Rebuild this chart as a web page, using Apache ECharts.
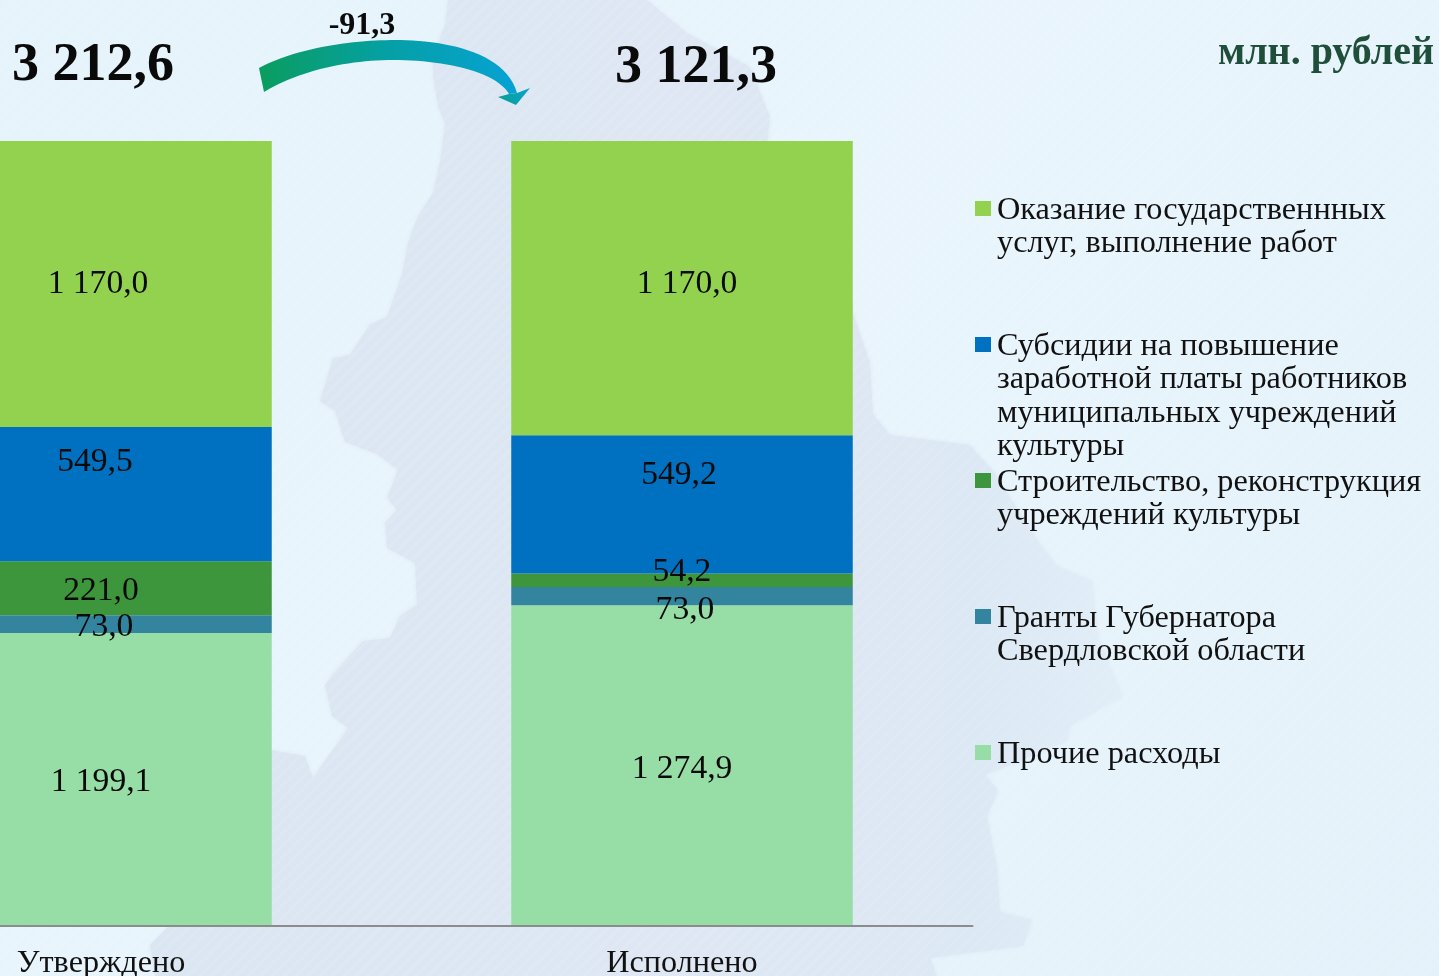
<!DOCTYPE html>
<html><head><meta charset="utf-8">
<style>html,body{margin:0;padding:0;width:1439px;height:976px;overflow:hidden;background:#e6f3fb}#c{width:1439px;height:976px}</style>
<script src="https://cdn.jsdelivr.net/npm/echarts@6/dist/echarts.min.js"></script>
</head><body><div id="c"></div>
<script>
const FONT = '"Liberation Serif", serif';
const categories = ['Утверждено', 'Исполнено'];
const seriesNames = ['Прочие расходы', 'Гранты Губернатора Свердловской области', 'Строительство, реконструкция учреждений культуры', 'Субсидии на повышение заработной платы работников муниципальных учреждений культуры', 'Оказание государственнных услуг, выполнение работ'];
const other = [1199.1, 1274.9];
const grants = [73.0, 73.0];
const construction = [221.0, 54.2];
const subsidies = [549.5, 549.2];
const services = [1170.0, 1170.0];
const totals = [3212.6, 3121.3];
const totalLabels = ['3 212,6', '3 121,3'];
const changeLabel = '-91,3';
const unitLabel = 'млн. рублей';

const seriesValues = [other, grants, construction, subsidies, services];
const seriesColors = ['#97dea6', '#33849e', '#3d963c', '#0070c0', '#92d24f'];
const labelOffsets = [
  [[0, 3], [0, 4]],
  [[3, 3], [3, 14]],
  [[0, 3], [0, -8]],
  [[-6, -32], [-3, -29]],
  [[-3, 0], [5, -4]]
];
const legendLines = [
  ['Прочие расходы'],
  ['Гранты Губернатора', 'Свердловской области'],
  ['Строительство, реконструкция', 'учреждений культуры'],
  ['Субсидии на повышение', 'заработной платы работников', 'муниципальных учреждений', 'культуры'],
  ['Оказание государственнных', 'услуг, выполнение работ']
];
const legendCenters = [753.5, 617.5, 481.5, 345.5, 209.5];
const LEGEND_FS = 32.3, LEGEND_LH = 33.5, SPACER = 4;

const fmt = v => { const s = v.toFixed(1).replace('.', ','); const [a, b] = s.split(','); return a.replace(/\B(?=(\d{3})+$)/g, ' ') + ',' + b; };

const series = seriesNames.map((name, i) => ({
  name, type: 'bar', stack: 'all', barWidth: 341.5, xAxisIndex: 0, yAxisIndex: 0,
  itemStyle: { color: seriesColors[i] },
  data: seriesValues[i].map((v, c) => ({
    value: v / totals[c],
    label: { show: true, position: 'inside', offset: labelOffsets[i][c], formatter: fmt(v), color: '#0a0a0a', fontFamily: FONT, fontSize: 33.6 }
  }))
}));

const legends = seriesNames.map((name, i) => {
  const lines = legendLines[i];
  const pad = lines.length - 1;
  const total = lines.length + pad;
  const rows = ['{b| }'].concat(Array(pad).fill('{t| }'), lines.map(l => '{t|' + l + '}'));
  return {
    data: [name], left: 975, top: legendCenters[i] - (total * LEGEND_LH + SPACER) / 2, padding: 0, orient: 'vertical',
    itemWidth: 16, itemHeight: 15, itemGap: 0, icon: 'rect', selectedMode: false,
    textStyle: {
      fontFamily: FONT, fontSize: LEGEND_FS, color: '#111',
      rich: {
        t: { fontFamily: FONT, fontSize: LEGEND_FS, lineHeight: LEGEND_LH, color: '#111', padding: [0, 0, 0, 1] },
        b: { fontSize: 2, lineHeight: SPACER }
      }
    },
    itemStyle: { borderWidth: 0 },
    formatter: () => rows.join('\n')
  };
});

const mapPts = [[448,0],[445,25],[433,56],[433,75],[438,106],[445,124],[440,162],[433,193],[417,218],[408,243],[402,274],[387,317],[370,324],[350,355],[333,358],[320,401],[335,411],[345,442],[377,454],[398,470],[387,498],[397,510],[385,523],[387,548],[415,563],[417,604],[400,616],[390,638],[363,641],[332,675],[325,685],[332,716],[348,728],[313,778],[305,756],[270,750],[170,925],[150,945],[155,976],[937,976],[930,958],[1023,946],[1032,920],[1000,912],[997,867],[987,817],[998,790],[985,775],[1067,741],[1070,726],[1122,696],[1098,638],[1092,581],[1057,566],[1037,540],[993,471],[970,445],[890,435],[873,414],[870,363],[853,313],[840,250],[790,170],[767,145],[770,117],[750,67],[687,33],[647,0]];

// arrow outline (decoration): sampled cubic curves
const cubic = (a, b, c, d, n) => Array.from({ length: n + 1 }, (_, k) => {
  const t = k / n, u = 1 - t;
  return [0, 1].map(j => u * u * u * a[j] + 3 * u * u * t * b[j] + 3 * u * t * t * c[j] + t * t * t * d[j]);
});
const shaftPts = [
  ...cubic([259, 68], [300, 46], [360, 40], [395, 40], 24),
  ...cubic([395, 40], [440, 40], [505, 50], [517, 93], 24),
  ...cubic([509, 94], [495, 70], [440, 60], [393, 60], 24),
  ...cubic([393, 60], [350, 60], [300, 70], [264, 92], 24)
];
const headPts = [[530,88],[516,105],[498,97],[509,94],[517,93]];
const txt = (text, x, y, size, color, bold) => ({ type: 'text', x, y, z: 5, style: { text, fontFamily: FONT, fontSize: size, fontWeight: bold ? 'bold' : 'normal', fill: color, textVerticalAlign: 'middle', textAlign: 'center' } });

// faint diagonal hatching of the backdrop
const hatch = document.createElement('canvas');
hatch.width = 12; hatch.height = 12;
const hc = hatch.getContext('2d');
hc.strokeStyle = 'rgba(255,255,255,0.07)';
hc.lineWidth = 3;
[[-6, 6, 6, -6], [0, 12, 12, 0], [6, 18, 18, 6]].forEach(s => { hc.beginPath(); hc.moveTo(s[0], s[1]); hc.lineTo(s[2], s[3]); hc.stroke(); });

const graphic = [
  { type: 'polygon', z: -2, shape: { points: mapPts }, style: { shadowBlur: 4, shadowColor: '#dde8f4', fill: { type: 'linear', x: 0, y: 0, x2: 1, y2: 0, colorStops: [{ offset: 0, color: '#dbe6f3' }, { offset: 0.55, color: '#dee7f3' }, { offset: 0.85, color: '#dce8f4' }, { offset: 1, color: '#e1edf7' }] } } },
  { type: 'rect', z: -1, shape: { x: 0, y: 0, width: 1439, height: 976 }, silent: true, style: { fill: { image: hatch, repeat: 'repeat' } } },
  { type: 'polygon', z: 4, shape: { points: shaftPts }, style: { fill: { type: 'linear', x: 0, y: 0, x2: 1, y2: 0, colorStops: [{ offset: 0, color: '#0a9d5f' }, { offset: 0.5, color: '#05a0a5' }, { offset: 1, color: '#06a2d4' }] } } },
  { type: 'polygon', z: 4, shape: { points: headPts }, style: { fill: { type: 'linear', x: 0, y: 1, x2: 1, y2: 0, colorStops: [{ offset: 0, color: '#0a9f90' }, { offset: 1, color: '#08a4cf' }] } } },
  txt(totalLabels[0], 93, 66, 54, '#0a0a0a', true),
  txt(totalLabels[1], 696, 68, 54, '#0a0a0a', true),
  txt(changeLabel, 362, 26, 32, '#0a0a0a', true),
  txt(unitLabel, 1326, 54, 40, '#1f4f3a', true)
];

const chart = echarts.init(document.getElementById('c'), null, { renderer: 'canvas' });
chart.setOption({
  animation: false,
  backgroundColor: { type: 'linear', x: 0, y: 0, x2: 1, y2: 1, colorStops: [{ offset: 0, color: '#e5f3fb' }, { offset: 0.5, color: '#e9f5fc' }, { offset: 1, color: '#e3f1fa' }] },
  grid: { left: -189.5, width: 1162, top: 141, height: 785, containLabel: false, outerBoundsMode: 'none' },
  xAxis: { type: 'category', z: 3, data: categories, axisTick: { show: false }, axisLine: { show: true, lineStyle: { color: '#8c8c8c', width: 2 } }, axisLabel: { color: '#111', fontFamily: FONT, fontSize: 32.2, margin: 22 } },
  yAxis: { type: 'value', min: 0, max: 1, show: false },
  legend: legends,
  graphic,
  series
});
</script></body></html>
